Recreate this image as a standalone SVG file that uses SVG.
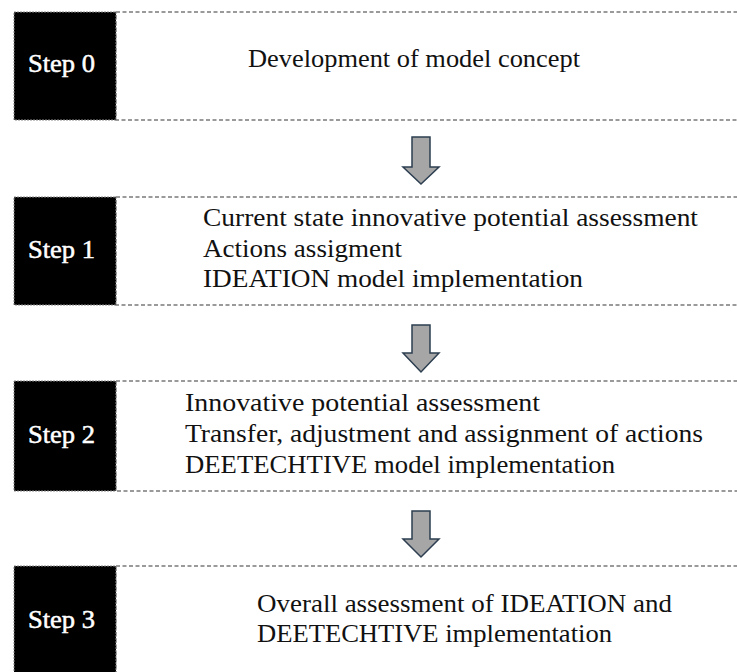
<svg xmlns="http://www.w3.org/2000/svg" width="737" height="672" viewBox="0 0 737 672">
<style>
.blk{fill:#000;stroke:#888;stroke-width:1;stroke-dasharray:2 1}
.frame{fill:#fff;stroke:#7a7a7a;stroke-width:1.3;stroke-dasharray:4 2.5}
.lbl{font-family:"Liberation Serif","DejaVu Serif",serif;font-size:25px;fill:#fff;stroke:#fff;stroke-width:0.5}
.txt{font-family:"Liberation Serif","DejaVu Serif",serif;font-size:25px;fill:#111}
.arr{fill:#a6a6a6;stroke:#2c3e50;stroke-width:1.5;stroke-linejoin:miter}
</style>
<rect width="737" height="672" fill="#fff"/>
<g id="step0">
<rect class="frame" x="116" y="12" width="630" height="108"/>
<rect class="blk" x="14" y="12" width="102" height="108"/>
<text class="lbl" x="28" y="72" textLength="67" lengthAdjust="spacingAndGlyphs">Step 0</text>
<text class="txt" x="248" y="67" textLength="332" lengthAdjust="spacingAndGlyphs">Development of model concept</text>
</g>
<g id="step1">
<rect class="frame" x="116" y="197" width="630" height="108"/>
<rect class="blk" x="14" y="197" width="102" height="108"/>
<text class="lbl" x="28" y="258" textLength="67" lengthAdjust="spacingAndGlyphs">Step 1</text>
<text class="txt" x="203" y="226" textLength="495" lengthAdjust="spacingAndGlyphs">Current state innovative potential assessment</text>
<text class="txt" x="203" y="257" textLength="199" lengthAdjust="spacingAndGlyphs">Actions assigment</text>
<text class="txt" x="203" y="287" textLength="380" lengthAdjust="spacingAndGlyphs">IDEATION model implementation</text>
</g>
<g id="step2">
<rect class="frame" x="116" y="381" width="630" height="110"/>
<rect class="blk" x="14" y="381" width="102" height="110"/>
<text class="lbl" x="28" y="443" textLength="67" lengthAdjust="spacingAndGlyphs">Step 2</text>
<text class="txt" x="185" y="411" textLength="355" lengthAdjust="spacingAndGlyphs">Innovative potential assessment</text>
<text class="txt" x="185" y="442" textLength="518" lengthAdjust="spacingAndGlyphs">Transfer, adjustment and assignment of actions</text>
<text class="txt" x="185" y="473" textLength="430" lengthAdjust="spacingAndGlyphs">DEETECHTIVE model implementation</text>
</g>
<g id="step3">
<rect class="frame" x="116" y="566" width="630" height="120"/>
<rect class="blk" x="14" y="566" width="102" height="120"/>
<text class="lbl" x="28" y="628" textLength="67" lengthAdjust="spacingAndGlyphs">Step 3</text>
<text class="txt" x="257" y="612" textLength="415" lengthAdjust="spacingAndGlyphs">Overall assessment of IDEATION and</text>
<text class="txt" x="257" y="642" textLength="355" lengthAdjust="spacingAndGlyphs">DEETECHTIVE implementation</text>
</g>
<g id="connectors">
<polygon class="arr" points="412,137 430,137 430,167 439,167 421,184 403,167 412,167"/>
<polygon class="arr" points="412,325 430,325 430,353 439,353 421,372 403,353 412,353"/>
<polygon class="arr" points="412,511 430,511 430,539 439,539 421,557 403,539 412,539"/>
</g>
</svg>
